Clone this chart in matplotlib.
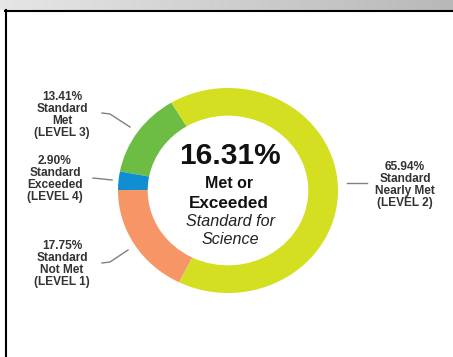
import numpy as np
import matplotlib
matplotlib.use("Agg")
import matplotlib.pyplot as plt

plt.rcParams["font.family"] = ["Liberation Sans", "DejaVu Sans"]

# data, in the order the wedges go round (counter-clockwise from top-left)
levels = ["LEVEL 3", "LEVEL 4", "LEVEL 1", "LEVEL 2"]
names = ["Met", "Exceeded", "Not Met", "Nearly Met"]
percents = [13.41, 2.90, 17.75, 65.94]
colors = ["#6dbd45", "#0f8fd2", "#f69565", "#d4df22"]
met_or_exceeded = 16.31

fig = plt.figure(figsize=(4.53, 3.57), dpi=100)

# donut
ax = fig.add_axes([118 / 453, 1 - 293 / 357, 220 / 453, 205 / 357])
ax.pie(percents, colors=colors, startangle=121, counterclock=True,
       wedgeprops=dict(width=0.27, linewidth=0))
ax.set_aspect("auto")
ax.set_xlim(-1, 1)
ax.set_ylim(-1, 1)
ax.axis("off")

# background frame (pixel coordinates)
bg = fig.add_axes([0, 0, 1, 1], zorder=-1)
grad = np.linspace(0.9, 0.72, 256).reshape(1, -1)
bg.imshow(grad, cmap="gray", vmin=0, vmax=1, extent=[0, 453, 10, 0], aspect="auto")
bg.plot([5, 453], [10.5, 10.5], color="black", lw=1.5)
bg.plot([5.5, 5.5], [10, 357], color="black", lw=1.5)
bg.set_xlim(0, 453)
bg.set_ylim(357, 0)
bg.axis("off")

# overlay for labels and leader lines
ov = fig.add_axes([0, 0, 1, 1])
ov.set_xlim(0, 453)
ov.set_ylim(357, 0)
ov.axis("off")

# centre text
ov.text(230, 156, f"{met_or_exceeded:.2f}%", ha="center", va="center",
        fontsize=21.5, fontweight="bold", color="#111111")
ov.text(229, 183, "Met or", ha="center", va="center", fontsize=11.5,
        fontweight="bold", color="#111111")
ov.text(229, 203, "Exceeded", ha="center", va="center", fontsize=12.3,
        fontweight="bold", color="#111111")
ov.text(230, 222, "Standard for", ha="center", va="center", fontsize=11.6,
        fontstyle="italic", color="#222222")
ov.text(230, 240, "Science", ha="center", va="center", fontsize=11.6,
        fontstyle="italic", color="#222222")

# side labels
label_pos = [(62, 115), (55, 179), (62, 264), (405, 185)]
leaders = [
    ([102, 110, 130], [113, 114, 127]),
    ([93, 112], [178, 180]),
    ([102, 110, 128], [263, 262, 250]),
    ([347, 367], [183, 183]),
]
for lvl, nm, p, (x, y), (lx, ly) in zip(levels, names, percents, label_pos, leaders):
    ov.text(x, y, f"{p:.2f}%\nStandard\n{nm}\n({lvl})", ha="center", va="center",
            fontsize=8.6, fontweight="bold", color="#333333", linespacing=1.02)
    ov.plot(lx, ly, color="#808080", lw=1)

fig.savefig("out.png", dpi=100)
